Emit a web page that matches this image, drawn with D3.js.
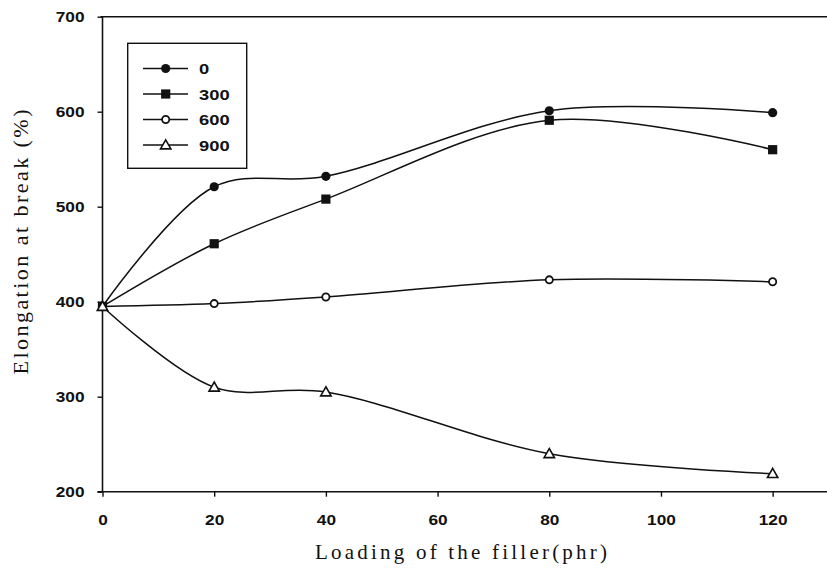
<!DOCTYPE html>
<html><head><meta charset="utf-8">
<script src="https://cdn.jsdelivr.net/npm/d3@7"></script>
<style>
body{margin:0;background:#fff;}
svg{display:block;}
</style></head>
<body>
<svg id="chart" width="827" height="579"></svg>
<script>
const loading = [0, 20, 40, 80, 120];
const seriesNames = ["0", "300", "600", "900"];
const s0   = [395, 521, 532, 601, 599];
const s300 = [395, 461, 508, 591, 560];
const s600 = [395, 398, 405, 423, 421];
const s900 = [395, 310, 305, 240, 219];
const xTicks = [0, 20, 40, 60, 80, 100, 120];
const yTicks = [200, 300, 400, 500, 600, 700];
const xTitle = "Loading of the filler(phr)";
const yTitle = "Elongation at break (%)";

const seriesValues = [s0, s300, s600, s900];
const markers = ["filledCircle", "filledSquare", "openCircle", "openTriangle"];

const svg = d3.select("#chart");
const x = d3.scaleLinear().domain([0, 130]).range([102.5, 828.5]);
const y = d3.scaleLinear().domain([200, 700]).range([491.7, 16.7]);

const ink = "#111";
const tickFont = "'Liberation Sans', Arial, sans-serif";
const charW = 9.6;

// frame: top border
svg.append("line").attr("x1", x(0) - 2).attr("x2", 827).attr("y1", y(700)).attr("y2", y(700))
  .attr("stroke", ink).attr("stroke-width", 1.6);

// axes
const yAxis = d3.axisLeft(y).tickValues(yTicks).tickSize(5).tickPadding(5);
const gy = svg.append("g").attr("transform", `translate(${x(0)},0)`).call(yAxis);
const xAxis = d3.axisBottom(x).tickValues(xTicks).tickSize(5).tickPadding(18);
const gx = svg.append("g").attr("transform", `translate(0,${y(200)})`).call(xAxis);
gx.select(".domain").attr("d", `M${x(0)-5},0H827`);
gy.select(".domain").attr("d", `M0,${y(700)}V${y(200)}`);
[gx, gy].forEach(g => {
  g.selectAll(".domain").attr("stroke", ink).attr("stroke-width", 1.6);
  g.selectAll(".tick line").attr("stroke", ink).attr("stroke-width", 1.4);
  g.selectAll(".tick text").attr("fill", ink).attr("font-family", tickFont)
    .attr("font-size", 14.5).attr("font-weight", "bold")
    .attr("textLength", function() { return this.textContent.length * charW; })
    .attr("lengthAdjust", "spacingAndGlyphs");
});
gy.selectAll(".tick text").attr("dx", "-8");
gx.selectAll(".tick text").attr("dx", "0");

// titles
svg.append("text").attr("x", 461).attr("y", 559).attr("text-anchor", "middle")
  .attr("font-family", "'Liberation Serif', 'Times New Roman', serif").attr("font-size", 21)
  .attr("fill", ink).attr("textLength", 292).attr("lengthAdjust", "spacing").text(xTitle);
svg.append("text").attr("transform", "translate(28,242) rotate(-90)").attr("text-anchor", "middle")
  .attr("font-family", "'Liberation Serif', 'Times New Roman', serif").attr("font-size", 22)
  .attr("fill", ink).attr("textLength", 265).attr("lengthAdjust", "spacing").text(yTitle);

// lines
const line = d3.line().x(d => x(d[0])).y(d => y(d[1])).curve(d3.curveCatmullRom.alpha(0.5));
seriesValues.forEach((vals, i) => {
  const pts = loading.map((lx, j) => [lx, vals[j]]);
  svg.append("path").attr("d", line(pts)).attr("fill", "none")
    .attr("stroke", ink).attr("stroke-width", 1.5);
});

function drawMarker(g, type, cx, cy) {
  if (type === "filledCircle") {
    g.append("circle").attr("cx", cx).attr("cy", cy).attr("r", 4.6).attr("fill", ink);
  } else if (type === "filledSquare") {
    g.append("rect").attr("x", cx - 4.6).attr("y", cy - 4.6).attr("width", 9.2).attr("height", 9.2).attr("fill", ink);
  } else if (type === "openCircle") {
    g.append("circle").attr("cx", cx).attr("cy", cy).attr("r", 3.6).attr("fill", "#fff")
      .attr("stroke", ink).attr("stroke-width", 1.8);
  } else {
    const s = 5.2;
    g.append("path").attr("d", `M${cx},${cy - s}L${cx + s},${cy + s * 0.75}L${cx - s},${cy + s * 0.75}Z`)
      .attr("fill", "#fff").attr("stroke", ink).attr("stroke-width", 1.6);
  }
}

const mg = svg.append("g");
seriesValues.forEach((vals, i) => {
  loading.forEach((lx, j) => drawMarker(mg, markers[i], x(lx), y(vals[j])));
});

// legend
const lg = svg.append("g");
lg.append("rect").attr("x", 127.7).attr("y", 43.3).attr("width", 119).attr("height", 125)
  .attr("fill", "#fff").attr("stroke", ink).attr("stroke-width", 1.4);
seriesNames.forEach((name, i) => {
  const ly = 68.5 + i * 25.5;
  lg.append("line").attr("x1", 143).attr("x2", 188).attr("y1", ly).attr("y2", ly)
    .attr("stroke", ink).attr("stroke-width", 1.5);
  drawMarker(lg, markers[i], 165.7, ly);
  lg.append("text").attr("x", 199).attr("y", ly + 5.5).attr("font-family", tickFont)
    .attr("font-size", 15).attr("font-weight", "bold")
    .attr("textLength", name.length * 10.2).attr("lengthAdjust", "spacingAndGlyphs")
    .attr("fill", ink).text(name);
});
</script>
</body></html>
